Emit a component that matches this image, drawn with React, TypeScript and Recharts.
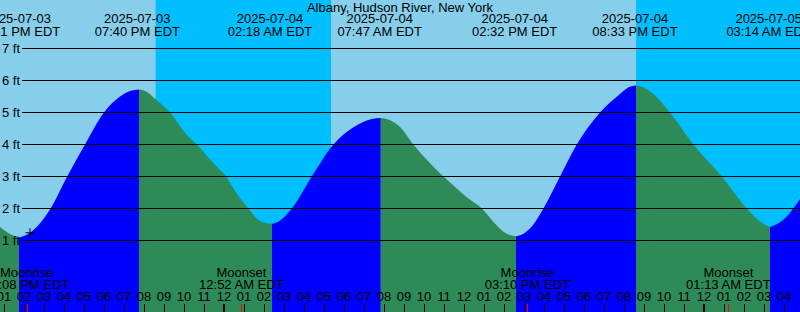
import React from 'react';
import {
  ComposedChart,
  Area,
  XAxis,
  YAxis,
  ReferenceArea,
  ReferenceLine,
  ReferenceDot,
} from 'recharts';

// ---------- data ----------
const TITLE = 'Albany, Hudson River, New York';

// hours relative to 2025-07-04 00:00 EDT, water level in feet
const tideHours = [
  -11.2, -10.7, -10.25, -9.7, -8.67, -7.84, -6.95, -6.0, -5.2, -4.65, -4.25,
  -3.85, -3.54, -2.7, -1.87, -1.37, -0.87, -0.37, 0.1, 0.64, 1.22, 1.64, 2.0, 2.39,
  2.8, 3.39, 4.39, 5.47, 6.47, 7.4, 7.84,
  8.3, 8.8, 9.47, 10.97, 11.47, 12.14, 12.89, 13.64, 14.14, 14.6,
  14.97, 15.47, 15.97, 16.8, 17.64, 18.8, 19.8, 20.15, 20.6,
  21.05, 21.47, 22.3, 23.47, 24.89, 26.14, 26.72, 27.3,
  27.97, 28.8,
];
const tideFeet = [
  1.42, 1.2, 1.09, 1.24, 2.0, 3.0, 4.0, 5.0, 5.5, 5.68, 5.72,
  5.64, 5.48, 5.0, 4.31, 4.0, 3.66, 3.31, 3.0, 2.46, 2.0, 1.68, 1.56, 1.52,
  1.62, 2.0, 3.0, 4.0, 4.54, 4.8, 4.83,
  4.76, 4.55, 4.0, 3.0, 2.72, 2.35, 2.0, 1.47, 1.21, 1.13,
  1.21, 1.5, 2.0, 3.0, 4.0, 5.0, 5.58, 5.76, 5.84,
  5.76, 5.58, 5.0, 4.0, 3.0, 2.0, 1.63, 1.42,
  1.65, 2.3,
];

const tideEventHours = [-10.317, -4.333, 2.3, 7.783, 14.533, 20.55, 27.233];
const tideEventDates = ['2025-07-03', '2025-07-03', '2025-07-04', '2025-07-04', '2025-07-04', '2025-07-04', '2025-07-05'];
const tideEventTimes = ['01:41 PM EDT', '07:40 PM EDT', '02:18 AM EDT', '07:47 AM EDT', '02:32 PM EDT', '08:33 PM EDT', '03:14 AM EDT'];

const moonEventHours = [-9.867, 0.867, 15.167, 25.217];
const moonEventNames = ['Moonrise', 'Moonset', 'Moonrise', 'Moonset'];
const moonEventTimes = ['02:08 PM EDT', '12:52 AM EDT', '03:10 PM EDT', '01:13 AM EDT'];

const nightStartHours = [-3.42, 20.6];
const nightEndHours = [5.35, 28.8];

const gridFeet = [1, 2, 3, 4, 5, 6, 7];
const gridLabels = ['1 ft', '2 ft', '3 ft', '4 ft', '5 ft', '6 ft', '7 ft'];

const hourTicks = [
  -11, -10, -9, -8, -7, -6, -5, -4, -3, -2, -1, 0, 1, 2, 3, 4, 5, 6, 7, 8, 9, 10,
  11, 12, 13, 14, 15, 16, 17, 18, 19, 20, 21, 22, 23, 24, 25, 26, 27, 28,
];
const hourTickLabels = [
  '01', '02', '03', '04', '05', '06', '07', '08', '09', '10', '11', '12',
  '01', '02', '03', '04', '05', '06', '07', '08', '09', '10', '11', '12',
  '01', '02', '03', '04', '05', '06', '07', '08', '09', '10', '11', '12',
  '01', '02', '03', '04',
];
const midnightHours = [0, 24];

const markHour = -9.7;
const markFeet = 1.24;

// ---------- layout / style ----------
const W = 800;
const H = 312;
const X_MIN = -11.2;
const X_MAX = 28.8;
const Y_MIN = -1.234375;
const Y_MAX = 8.515625;
const GRID_START = -10.1;
const FONT = "'Liberation Sans', Arial, Helvetica, sans-serif";
const DAY = '#87CEEB';
const NIGHT = '#00BFFF';
const RISE = '#0000FF';
const FALL = '#2E8B57';

const chartData = tideHours.map((t, i) => {
  const n = tideFeet.length;
  const prev = i > 0 ? tideFeet[i] - tideFeet[i - 1] : 0;
  const next = i < n - 1 ? tideFeet[i + 1] - tideFeet[i] : 0;
  const rising = prev > 0 || next > 0;
  const falling = prev < 0 || next < 0;
  return { t, rise: rising ? tideFeet[i] : null, fall: falling ? tideFeet[i] : null };
});

const HourTick = (props: any) => {
  const { x, payload } = props;
  const idx = hourTicks.indexOf(payload.value);
  const label = idx >= 0 ? hourTickLabels[idx] : '';
  const thick = midnightHours.includes(payload.value);
  const px = Math.round(x);
  return (
    <g>
      <text x={px} y={301} textAnchor="middle" fontFamily={FONT} fontSize={13} fill="#000">
        {label}
      </text>
      <rect x={thick ? px - 1 : px} y={304} width={thick ? 2 : 1} height={8} fill="#000" />
    </g>
  );
};

export default function App() {
  return (
    <div style={{ position: 'absolute', left: 0, top: 0, width: W, height: H, background: DAY }}>
      <ComposedChart
        width={W}
        height={H}
        data={chartData}
        margin={{ top: 0, right: 0, bottom: 0, left: 0 }}
      >
        <XAxis
          dataKey="t"
          type="number"
          domain={[X_MIN, X_MAX]}
          allowDataOverflow
          ticks={hourTicks}
          interval={0}
          mirror
          axisLine={false}
          tickLine={false}
          tick={<HourTick />}
        />
        <YAxis type="number" domain={[Y_MIN, Y_MAX]} allowDataOverflow hide />
        {nightStartHours.map((s, i) => (
          <ReferenceArea
            key={'n' + i}
            x1={s}
            x2={nightEndHours[i]}
            y1={Y_MIN}
            y2={Y_MAX}
            fill={NIGHT}
            fillOpacity={1}
            stroke="none"
            ifOverflow="hidden"
            zIndex={-500}
          />
        ))}
        <Area
          type="monotone"
          dataKey="rise"
          stroke="none"
          fill={RISE}
          fillOpacity={1}
          baseValue="dataMin"
          isAnimationActive={false}
          dot={false}
          activeDot={false}
        />
        <Area
          type="monotone"
          dataKey="fall"
          stroke="none"
          fill={FALL}
          fillOpacity={1}
          baseValue="dataMin"
          isAnimationActive={false}
          dot={false}
          activeDot={false}
        />
        {gridFeet.map((v) => (
          <ReferenceLine
            key={'g' + v}
            segment={[
              { x: GRID_START, y: v },
              { x: X_MAX, y: v },
            ]}
            stroke="#000"
            strokeWidth={1}
            ifOverflow="visible"
          />
        ))}
        {gridFeet.map((v, i) => (
          <ReferenceDot
            key={'gl' + v}
            x={X_MIN}
            y={v}
            ifOverflow="visible"
            shape={(p: any) => (
              <text x={2} y={p.cy + 4.5} fontFamily={FONT} fontSize={13} fill="#000">
                {gridLabels[i]}
              </text>
            )}
          />
        ))}
        <ReferenceDot
          x={markHour}
          y={markFeet}
          ifOverflow="visible"
          shape={(p: any) => (
            <g stroke="#000" strokeWidth={1}>
              <line x1={p.cx - 4.5} y1={p.cy} x2={p.cx + 4.5} y2={p.cy} />
              <line x1={p.cx} y1={p.cy - 4.5} x2={p.cx} y2={p.cy + 4.5} />
            </g>
          )}
        />
        <ReferenceDot
          x={(X_MIN + X_MAX) / 2}
          y={Y_MAX}
          ifOverflow="visible"
          shape={(p: any) => (
            <text x={p.cx} y={12} textAnchor="middle" fontFamily={FONT} fontSize={13} fill="#000">
              {TITLE}
            </text>
          )}
        />
        {tideEventHours.map((t, i) => (
          <ReferenceDot
            key={'te' + i}
            x={t}
            y={Y_MAX}
            ifOverflow="visible"
            shape={(p: any) => (
              <g fontFamily={FONT} fontSize={13} fill="#000">
                <text x={p.cx} y={23} textAnchor="middle">{tideEventDates[i]}</text>
                <text x={p.cx} y={36} textAnchor="middle">{tideEventTimes[i]}</text>
              </g>
            )}
          />
        ))}
        {moonEventHours.map((t, i) => (
          <ReferenceDot
            key={'me' + i}
            x={t}
            y={Y_MIN}
            ifOverflow="visible"
            shape={(p: any) => (
              <g fontFamily={FONT} fontSize={13} fill="#000">
                <text x={p.cx} y={277} textAnchor="middle">{moonEventNames[i]}</text>
                <text x={p.cx} y={289} textAnchor="middle">{moonEventTimes[i]}</text>
                <rect x={Math.round(p.cx)} y={304} width={1} height={8} fill="#FF0000" />
              </g>
            )}
          />
        ))}
      </ComposedChart>
    </div>
  );
}
